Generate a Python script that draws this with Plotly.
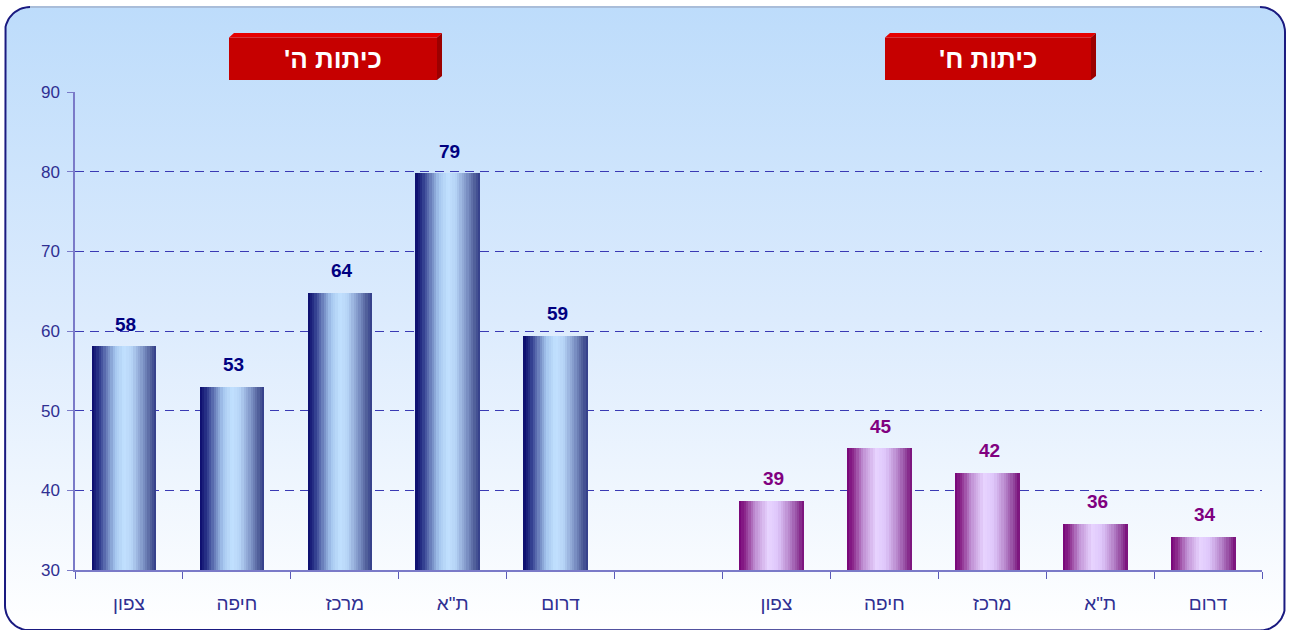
import numpy as np
import plotly.graph_objects as go

# ---------------- data ----------------
regions = ["צפון", "חיפה", "מרכז", "ת\"א", "דרום"]
group_titles = ["כיתות ה'", "כיתות ח'"]
grade5_values = [58.1, 53.0, 64.8, 79.8, 59.4]
grade5_labels = ["58", "53", "64", "79", "59"]
grade8_values = [38.7, 45.3, 42.2, 35.8, 34.2]
grade8_labels = ["39", "45", "42", "36", "34"]
y_ticks = [30, 40, 50, 60, 70, 80, 90]

# ---------------- styling ----------------
W, H = 1289, 630
FONT = "Liberation Sans, Arial, sans-serif"
NAVY = "#000080"
PURPLE = "#800080"
AXIS_TXT = "#2f2f92"

blue_stops = [(0.0, (10, 10, 108)), (0.1, (40, 50, 135)), (0.22, (100, 120, 182)),
              (0.36, (165, 198, 238)), (0.5, (194, 225, 255)), (0.62, (182, 212, 246)),
              (0.78, (130, 152, 202)), (0.92, (78, 92, 152)), (1.0, (48, 58, 136))]
purple_stops = [(0.0, (118, 0, 118)), (0.1, (142, 45, 142)), (0.25, (192, 145, 212)),
                (0.45, (232, 212, 255)), (0.6, (222, 198, 250)), (0.78, (182, 132, 202)),
                (0.92, (142, 62, 152)), (1.0, (120, 10, 120))]


def interp(stops, t):
    for (t0, c0), (t1, c1) in zip(stops[:-1], stops[1:]):
        if t0 <= t <= t1:
            f = (t - t0) / (t1 - t0) if t1 > t0 else 0
            c = [round(a + (b - a) * f) for a, b in zip(c0, c1)]
            return "rgb(%d,%d,%d)" % tuple(c)
    c = stops[-1][1]
    return "rgb(%d,%d,%d)" % c


keys5 = ["ה|" + r for r in regions]
keys8 = ["ח|" + r for r in regions]
all_keys = keys5 + ["gap"] + keys8
tick_text = regions + [""] + regions

bar_keys = keys5 + keys8
bar_vals = grade5_values + grade8_values
bar_labels = grade5_labels + grade8_labels
bar_groups = [0] * len(keys5) + [1] * len(keys8)

fig = go.Figure()

# ---------- background panel (pixel-unit axes x/y) ----------
x0p, x1p, topp, botp, rad = 5, 1285, 7, 630.5, 25
def rounded_rect(x0, x1, ytop, ybot, r):
    pts = []
    corners = [(x1 - r, ytop + r, -90, 0), (x1 - r, ybot - r, 0, 90),
               (x0 + r, ybot - r, 90, 180), (x0 + r, ytop + r, 180, 270)]
    for cx, cy, a0, a1 in corners:
        for a in np.linspace(np.radians(a0), np.radians(a1), 16):
            pts.append((cx + r * np.cos(a), cy + r * np.sin(a)))
    pts.append(pts[0])
    xs = [p[0] for p in pts]
    ys = [H - p[1] for p in pts]
    return xs, ys

bx, by = rounded_rect(x0p, x1p, topp, botp, rad)
fig.add_trace(go.Scatter(
    x=bx, y=by, mode="lines", fill="toself",
    line=dict(color="#1a1a80", width=2),
    fillgradient=dict(type="vertical",
                      colorscale=[[0, "#ffffff"], [0.5, "#dcebfd"], [1, "#bddcfb"]]),
    hoverinfo="skip", showlegend=False, xaxis="x", yaxis="y"))
fig.add_trace(go.Scatter(
    x=[x0p + rad, x1p - rad], y=[H - topp, H - topp], mode="lines",
    line=dict(color="#a9bdd9", width=2), hoverinfo="skip", showlegend=False,
    xaxis="x", yaxis="y"))

# ---------- gradient bars made of vertical slices ----------
N = 28
bar_w = 0.6
bar_off = -0.345
d = bar_w / N
for i in range(N):
    t = (i + 0.5) / N
    cols = [interp(blue_stops if g == 0 else purple_stops, t) for g in bar_groups]
    fig.add_trace(go.Bar(
        x=bar_keys, y=bar_vals,
        width=d * (1.0 if i == N - 1 else 1.6),
        offset=bar_off + i * d,
        marker=dict(color=cols, line=dict(width=0)),
        hoverinfo="skip", showlegend=False, xaxis="x2", yaxis="y2"))

# ---------- value labels ----------
annotations = []
for k, v, lab, g in zip(bar_keys, bar_vals, bar_labels, bar_groups):
    annotations.append(dict(
        x=k, y=v, xref="x2", yref="y2", text="<b>%s</b>" % lab, showarrow=False,
        yshift=22, xshift=-3, yanchor="middle",
        font=dict(family=FONT, size=19, color=NAVY if g == 0 else PURPLE)))

# ---------- title boxes ----------
shapes = []
boxes = [(229, 437), (885, 1091)]
face_top, face_bot, bevel_top, bev = 37.5, 80, 33, 5
for (bx0, bx1), title in zip(boxes, group_titles):
    shapes.append(dict(type="rect", xref="x", yref="y", x0=bx0, x1=bx1,
                       y0=H - face_bot, y1=H - face_top,
                       fillcolor="#c60000", line=dict(width=0), layer="above"))
    shapes.append(dict(type="path", xref="x", yref="y", layer="above",
                       path="M %f,%f L %f,%f L %f,%f L %f,%f Z" % (
                           bx0, H - face_top, bx0 + bev, H - bevel_top,
                           bx1 + bev, H - bevel_top, bx1, H - face_top),
                       fillcolor="#e60000", line=dict(width=0)))
    shapes.append(dict(type="path", xref="x", yref="y", layer="above",
                       path="M %f,%f L %f,%f L %f,%f L %f,%f Z" % (
                           bx1, H - face_top, bx1 + bev, H - bevel_top,
                           bx1 + bev, H - face_bot + 4, bx1, H - face_bot),
                       fillcolor="#9c0000", line=dict(width=0)))
    annotations.append(dict(
        x=(bx0 + bx1) / 2, y=H - (face_top + face_bot) / 2, xref="x", yref="y",
        text="<b>\u200f%s\u200f</b>" % title, showarrow=False,
        font=dict(family=FONT, size=26, color="white")))

fig.update_layout(
    width=W, height=H, autosize=False,
    margin=dict(l=0, r=0, t=0, b=0, pad=0, autoexpand=False),
    paper_bgcolor="white", plot_bgcolor="rgba(0,0,0,0)",
    barmode="overlay", bargap=0,
    showlegend=False,
    shapes=shapes, annotations=annotations,
    xaxis=dict(domain=[0, 1], range=[0, W], visible=False, fixedrange=True),
    yaxis=dict(domain=[0, 1], range=[0, H], visible=False, fixedrange=True),
    xaxis2=dict(
        domain=[75 / W, 1262 / W], anchor="y2",
        type="category", categoryorder="array", categoryarray=all_keys,
        range=[-0.5, len(all_keys) - 0.5],
        tickmode="array", tickvals=all_keys, ticktext=tick_text,
        tickson="boundaries", ticks="outside", ticklen=7, tickcolor="#5a5ab8",
        showline=True, linecolor="#7a7ac8", linewidth=1.5,
        showgrid=False, ticklabelstandoff=15, automargin=False,
        tickfont=dict(family=FONT, size=19, color=AXIS_TXT)),
    yaxis2=dict(
        domain=[(H - 570) / H, (H - 92) / H], anchor="x2",
        range=[30, 90], tickmode="array", tickvals=y_ticks,
        ticks="outside", ticklen=6, tickcolor="#7a7ac8",
        showline=True, linecolor="#7a7ac8", linewidth=1.5,
        showgrid=True, gridcolor="#3a3ab4", gridwidth=1, griddash="9px,6px",
        zeroline=False, ticklabelstandoff=4, automargin=False,
        tickfont=dict(family=FONT, size=17, color=AXIS_TXT)),
)

fig.write_html("out.html", config={"displayModeBar": False},
               post_script="document.body.style.margin='0';")
